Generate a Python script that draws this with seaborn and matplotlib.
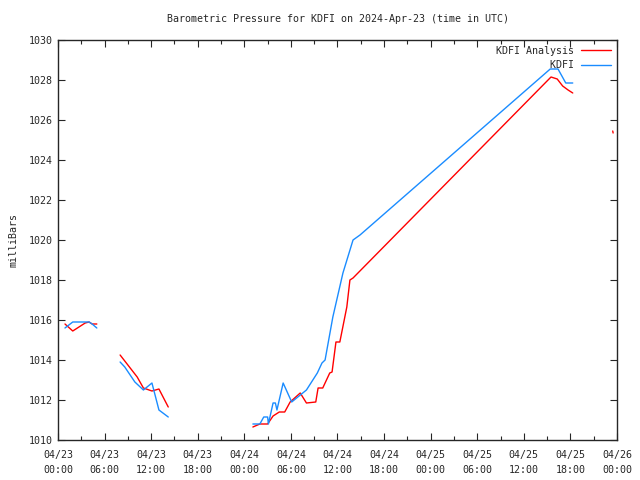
import pandas as pd
import seaborn as sns
import matplotlib.pyplot as plt
import matplotlib.dates as mdates

# hours after 2024-04-23 00:00 UTC, values in millibars
obs_hours = [0.9, 1.9, 4.0, 4.4, 5.0,
             8.0, 8.6, 9.9, 11.0, 12.1, 13.0, 14.2,
             25.1, 26.0, 26.5, 27.0, 27.1, 27.7, 28.0, 28.2, 29.0, 30.1, 32.0,
             33.4, 34.0, 34.4, 35.4, 36.7, 38.0, 38.9, 63.4, 64.4, 65.4, 66.3]
obs_press = [1015.6, 1015.9, 1015.9, 1015.8, 1015.6,
             1013.9, 1013.65, 1012.9, 1012.5, 1012.85, 1011.5, 1011.15,
             1010.8, 1010.8, 1011.15, 1011.15, 1010.8, 1011.85, 1011.85, 1011.5, 1012.85, 1011.9, 1012.5,
             1013.35, 1013.85, 1014.0, 1016.15, 1018.35, 1020.0, 1020.25, 1028.55, 1028.55, 1027.85, 1027.85]
obs_seg = [0] * 5 + [1] * 7 + [2] * 22

ana_hours = [0.9, 1.9, 3.5, 4.0, 4.4, 5.0,
             8.0, 10.2, 11.0, 12.1, 13.0, 14.2,
             25.1, 26.0, 27.0, 27.7, 28.5, 29.2, 29.9, 31.2, 32.0, 33.2, 33.5, 34.1,
             35.0, 35.3, 35.8, 36.3, 37.2, 37.6, 38.0, 63.5, 64.3, 65.0, 65.7, 66.3,
             71.45, 71.5]
ana_press = [1015.8, 1015.45, 1015.85, 1015.9, 1015.8, 1015.8,
             1014.25, 1013.15, 1012.6, 1012.45, 1012.55, 1011.65,
             1010.65, 1010.8, 1010.8, 1011.2, 1011.4, 1011.4, 1011.9, 1012.35, 1011.85, 1011.9, 1012.6, 1012.6,
             1013.35, 1013.4, 1014.9, 1014.9, 1016.65, 1018.0, 1018.1, 1028.15, 1028.05, 1027.7, 1027.5, 1027.35,
             1025.45, 1025.35]
ana_seg = [0] * 6 + [1] * 6 + [2] * 24 + [3] * 2

start = pd.Timestamp('2024-04-23 00:00')
obs = pd.DataFrame({'time': start + pd.to_timedelta(obs_hours, unit='h'),
                    'press': obs_press, 'seg': obs_seg})
ana = pd.DataFrame({'time': start + pd.to_timedelta(ana_hours, unit='h'),
                    'press': ana_press, 'seg': ana_seg})

sns.set_style('ticks')
plt.rcParams['font.family'] = ['DejaVu Sans Mono']
fs = 7.2

fig = plt.figure(figsize=(6.4, 4.8), dpi=100)
ax = fig.add_axes([58 / 640, 40 / 480, 559 / 640, 400 / 480])

labels = ['KDFI Analysis', 'KDFI']
width = max(len(s) for s in labels)
sns.lineplot(data=ana, x='time', y='press', units='seg', estimator=None,
             color='#ff0000', lw=1, ax=ax, legend=False)
n_ana = len(ax.get_lines())
sns.lineplot(data=obs, x='time', y='press', units='seg', estimator=None,
             color='#1a8cff', lw=1, ax=ax, legend=False)
lines = ax.get_lines()

ax.set_xlim(start, start + pd.Timedelta(hours=72))
ax.set_ylim(1010, 1030)
ax.set_yticks(range(1010, 1031, 2))
ax.xaxis.set_major_locator(mdates.HourLocator(byhour=[0, 6, 12, 18]))
ax.xaxis.set_minor_locator(mdates.HourLocator(byhour=[3, 9, 15, 21]))
ax.xaxis.set_major_formatter(mdates.DateFormatter('%m/%d\n%H:%M'))
ax.tick_params(which='both', direction='in', top=True, right=True, width=0.8, labelsize=fs)
ax.tick_params(which='major', length=5)
ax.tick_params(which='minor', length=3)
ax.tick_params(axis='x', pad=7)
for t in ax.get_xticklabels():
    t.set_linespacing(1.6)
for s in ax.spines.values():
    s.set_linewidth(1)

ax.set_xlabel('')
ax.set_ylabel('milliBars', fontsize=fs, labelpad=8)
fig.suptitle('Barometric Pressure for KDFI on 2024-Apr-23 (time in UTC)',
             x=338 / 640, y=1 - 19 / 480, va='center', fontsize=fs)

ax.legend([lines[0], lines[n_ana]], [s.rjust(width) for s in labels],
          loc='upper right', frameon=False, markerfirst=False, fontsize=fs,
          handlelength=3.0, borderaxespad=0.2, labelspacing=0.45, handletextpad=0.7)

fig.savefig('out.png', dpi=100)
